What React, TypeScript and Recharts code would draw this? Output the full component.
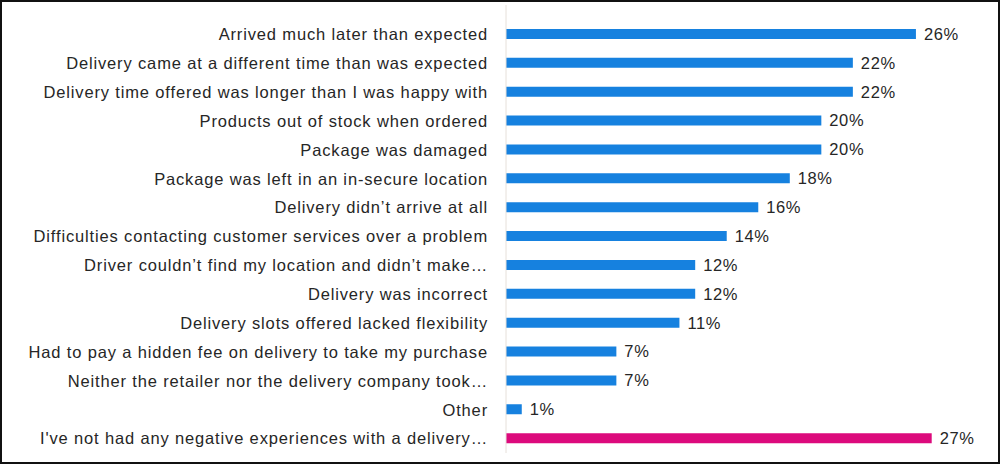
import React from "react"
import { BarChart, Bar, XAxis, YAxis, Cell, LabelList } from "recharts"

const labels = [
  "Arrived much later than expected",
  "Delivery came at a different time than was expected",
  "Delivery time offered was longer than I was happy with",
  "Products out of stock when ordered",
  "Package was damaged",
  "Package was left in an in-secure location",
  "Delivery didn’t arrive at all",
  "Difficulties contacting customer services over a problem",
  "Driver couldn’t find my location and didn’t make…",
  "Delivery was incorrect",
  "Delivery slots offered lacked flexibility",
  "Had to pay a hidden fee on delivery to take my purchase",
  "Neither the retailer nor the delivery company took…",
  "Other",
  "I've not had any negative experiences with a delivery…",
]

const values = [26, 22, 22, 20, 20, 18, 16, 14, 12, 12, 11, 7, 7, 1, 27]

// last row is the "no negative experience" answer, drawn in pink
const highlight = [false, false, false, false, false, false, false, false, false, false, false, false, false, false, true]

const BLUE = "#1681df"
const PINK = "#dc0a7c"
const FONT = "'Liberation Sans', Arial, sans-serif"

const data = labels.map((label, i) => ({ label, value: values[i], hl: highlight[i] }))

export default function App() {
  return (
    <div style={{ position: "absolute", left: 0, top: 0, width: 1000, height: 464, background: "#fff" }}>
      <BarChart
        width={1000}
        height={464}
        data={data}
        layout="vertical"
        margin={{ top: 5, right: 21, left: 0, bottom: 11 }}
      >
        <XAxis type="number" domain={[0, 30]} hide />
        <YAxis
          type="category"
          dataKey="label"
          width={506}
          interval={0}
          tickLine={false}
          tickSize={0}
          tickMargin={18}
          axisLine={{ stroke: "#e6e0da" }}
          padding={{ top: 15, bottom: 0 }}
          tick={{ fontSize: 16.5, fill: "#262626", fontFamily: FONT, letterSpacing: 0.85 }}
        />
        <Bar dataKey="value" barSize={10} isAnimationActive={false}>
          {data.map((d, i) => (
            <Cell key={i} fill={d.hl ? PINK : BLUE} />
          ))}
          <LabelList
            dataKey="value"
            position="right"
            offset={8}
            formatter={(v: any) => `${v}%`}
            style={{ fontSize: 16.5, fill: "#262626", fontFamily: FONT, letterSpacing: 0.6 }}
          />
        </Bar>
      </BarChart>
      <div
        style={{
          position: "absolute", left: 0, top: 0, width: 1000, height: 464,
          boxSizing: "border-box", border: "2px solid #111", pointerEvents: "none",
        }}
      />
    </div>
  )
}
